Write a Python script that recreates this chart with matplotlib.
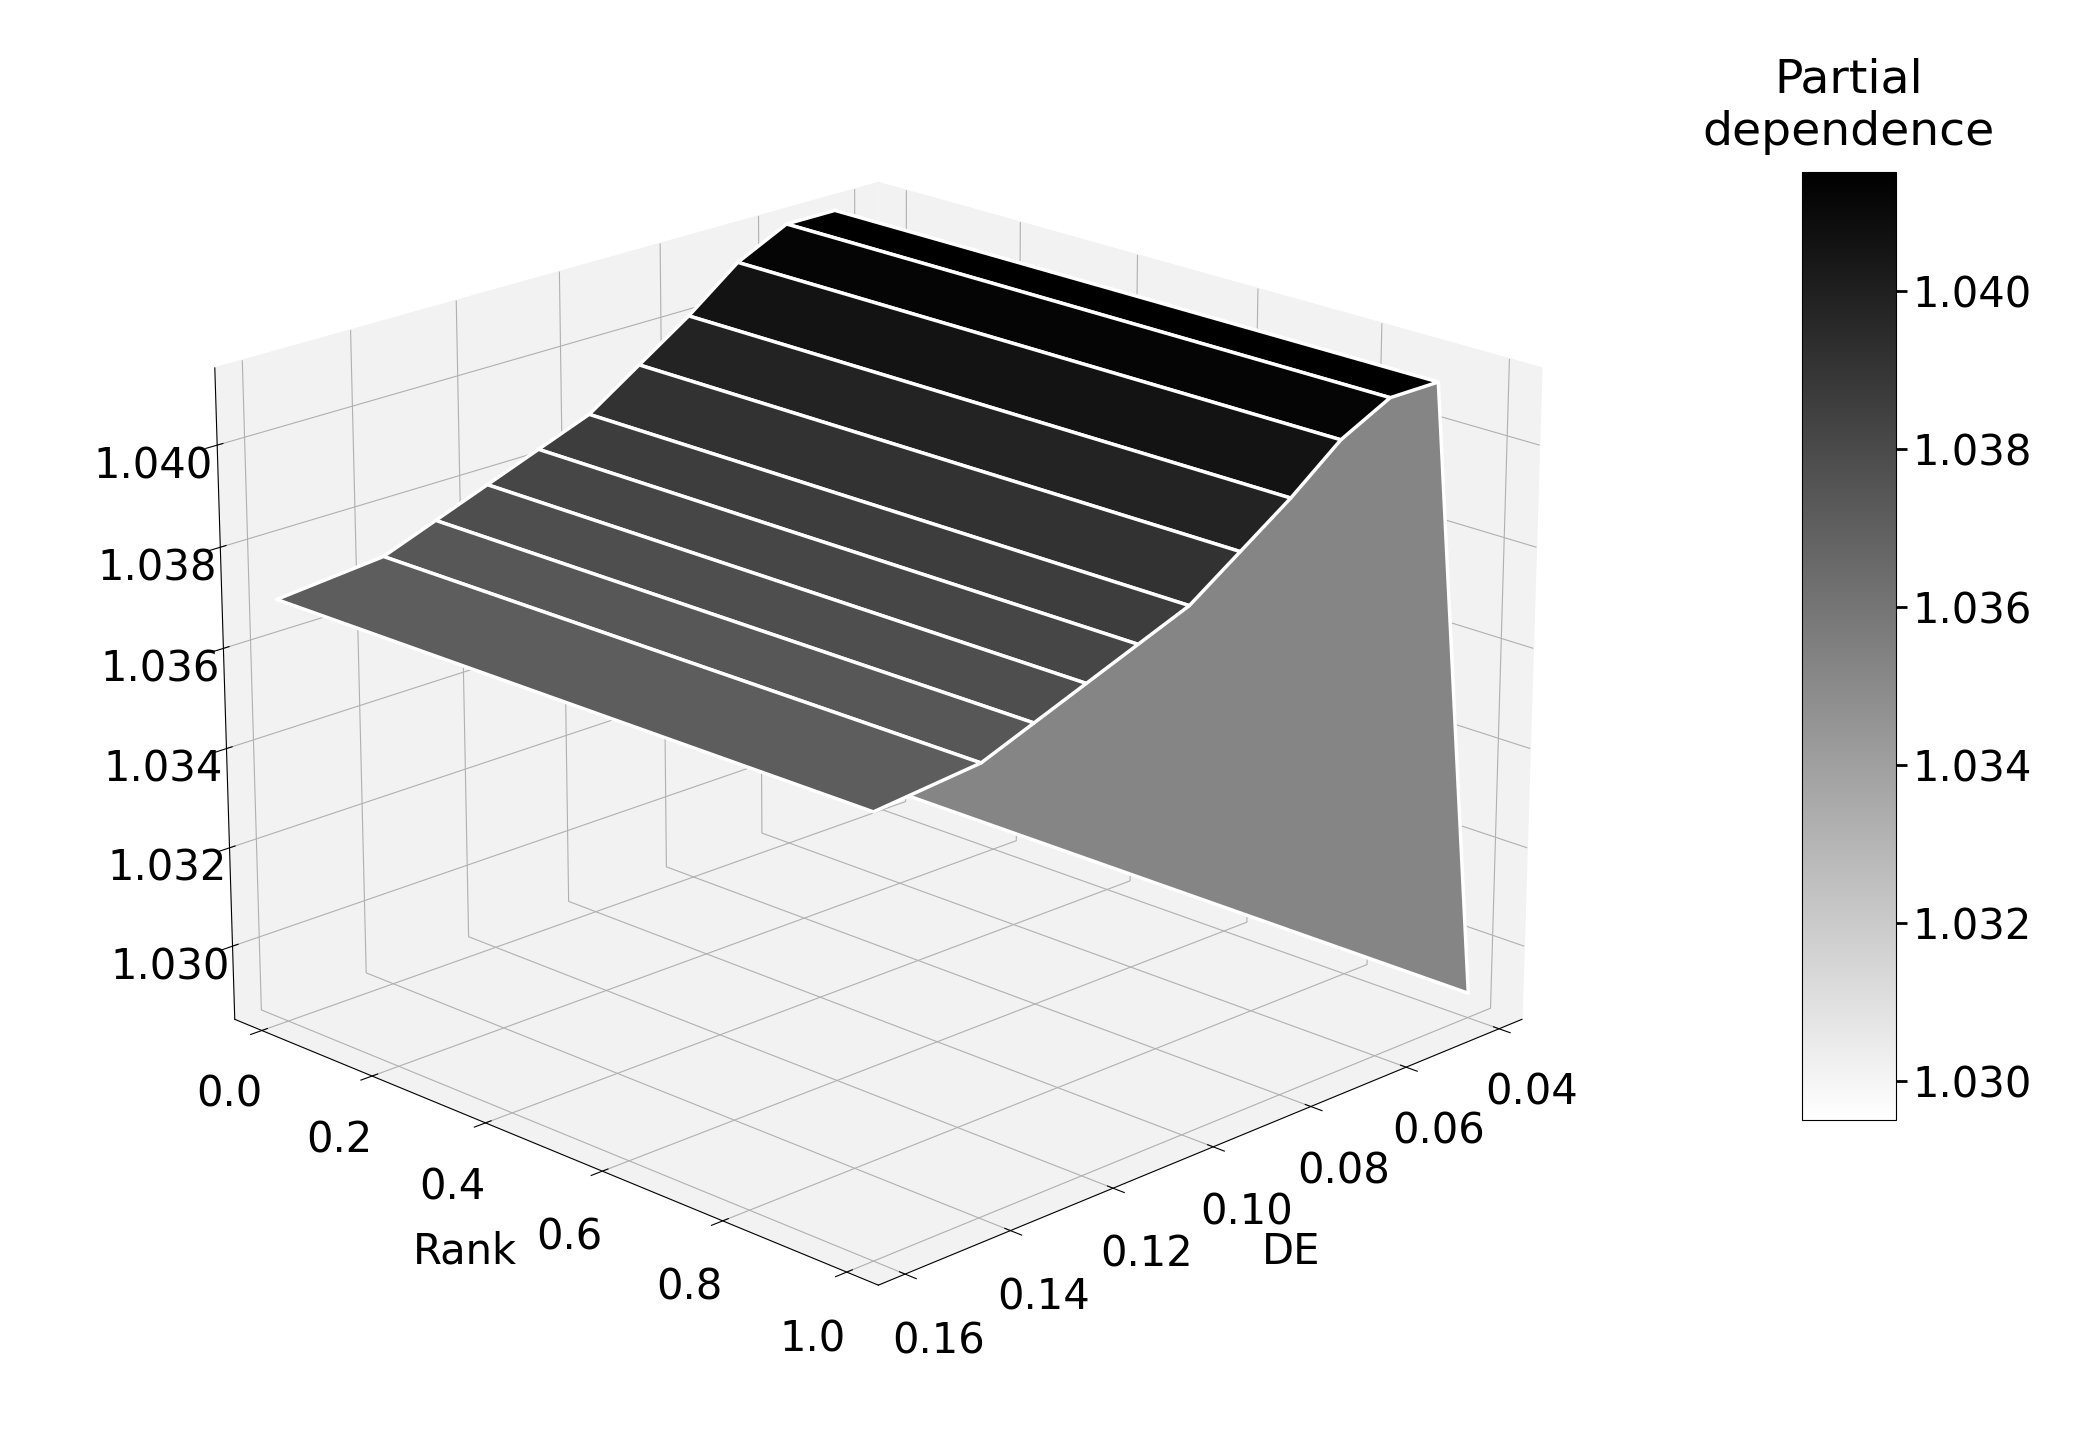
import numpy as np
import matplotlib
matplotlib.use("Agg")
import matplotlib.pyplot as plt

rank = [0.0, 1.0]
de = [0.04, 0.05, 0.06, 0.07, 0.08, 0.09, 0.10, 0.11, 0.12, 0.13, 0.14, 0.16]
pd_vals = [1.0290, 1.0415, 1.0415, 1.0410, 1.0402, 1.0395, 1.0388, 1.0384, 1.0380, 1.0376, 1.0372, 1.0370]

D, R = np.meshgrid(de, rank)
Z = np.tile(np.array(pd_vals)[None, :], (len(rank), 1))

fig = plt.figure(figsize=(20.95, 14.36), dpi=100)
ax = fig.add_axes([0.0, 0.0, 0.82, 1.0], projection='3d')
surf = ax.plot_surface(D, R, Z, cmap='gray_r', edgecolor='white', linewidth=2.5,
                       vmin=1.0295, vmax=1.0415, antialiased=True)
ax.view_init(elev=20, azim=45)
ax.set_xlim(0.035, 0.165)
ax.set_ylim(-0.05, 1.05)
ax.set_zlim(1.0285, 1.0415)
ax.set_yticks([0.0, 0.2, 0.4, 0.6, 0.8, 1.0])
ax.set_xticks([0.04, 0.06, 0.08, 0.10, 0.12, 0.14, 0.16])
ax.set_zticks([1.030, 1.032, 1.034, 1.036, 1.038, 1.040])
ax.set_yticklabels(['0.0', '0.2', '0.4', '0.6', '0.8', '1.0'])
ax.set_xticklabels(['0.04', '0.06', '0.08', '0.10', '0.12', '0.14', '0.16'])
ax.set_zticklabels(['1.030', '1.032', '1.034', '1.036', '1.038', '1.040'])
ax.tick_params(labelsize=30, pad=18)
ax.set_ylabel('Rank', fontsize=30, labelpad=40)
ax.set_xlabel('DE', fontsize=30, labelpad=40)
for a in (ax.xaxis, ax.yaxis, ax.zaxis):
    a.set_pane_color((0.95, 0.95, 0.95, 1.0))

cax = fig.add_axes([0.86, 0.22, 0.045, 0.66])
cb = fig.colorbar(surf, cax=cax, ticks=[1.030, 1.032, 1.034, 1.036, 1.038, 1.040])
cb.ax.set_yticklabels(['1.030', '1.032', '1.034', '1.036', '1.038', '1.040'])
cb.ax.tick_params(labelsize=30, length=8, width=2)
cb.ax.set_title('Partial\ndependence', fontsize=34, pad=20)
fig.savefig('out.png', dpi=100)
